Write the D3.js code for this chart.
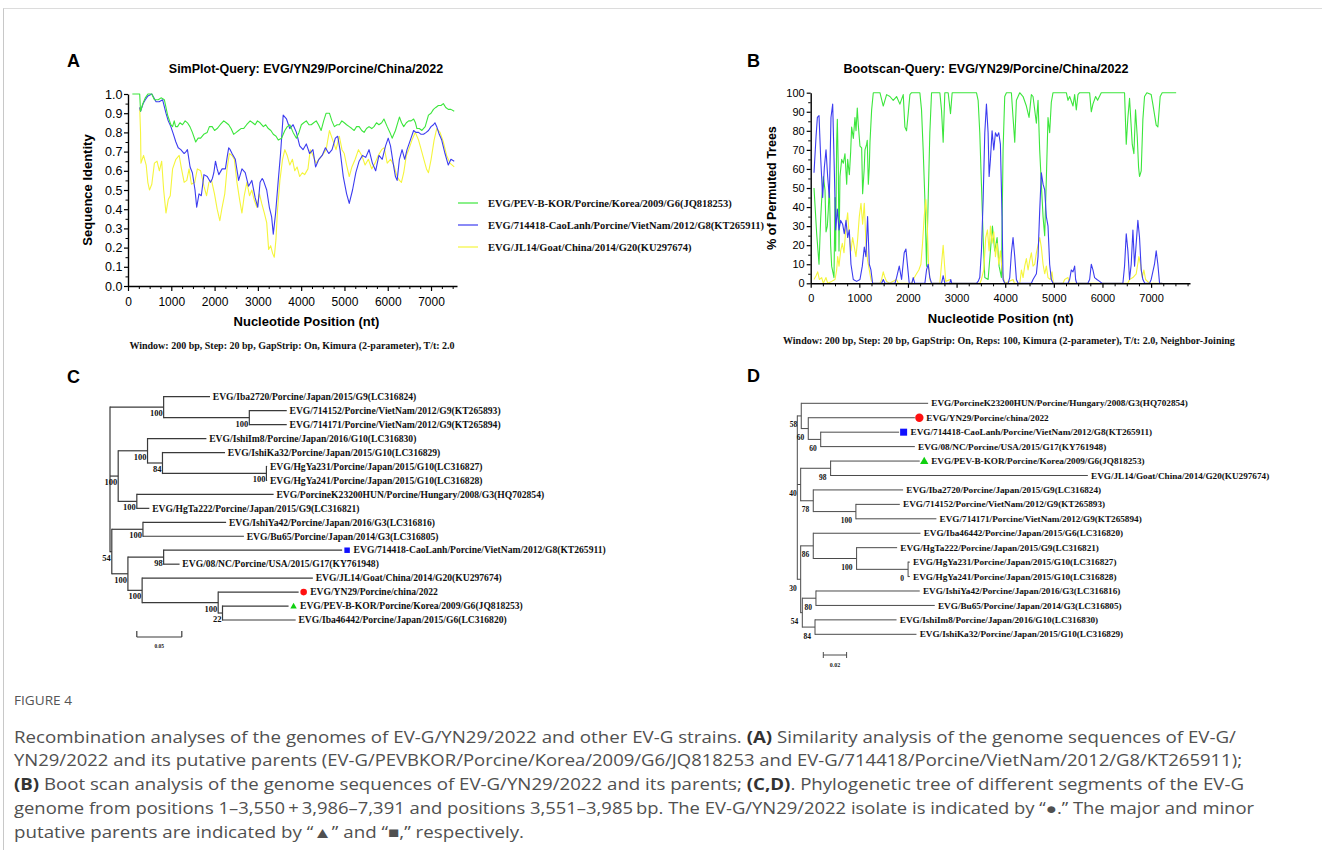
<!DOCTYPE html>
<html><head><meta charset="utf-8">
<script src="https://cdn.jsdelivr.net/npm/d3@7"></script>
<style>
body{margin:0;background:#fff;}
svg{display:block;}
</style></head>
<body>
<svg id="fig" width="1322" height="850"></svg>
<script>
// ---------------- DATA ----------------
// Panel A: SimPlot sequence identity, [position nt, identity]
const simGreen = [[100,1.0],[270,1.0],[290,0.91],[343,0.95],[400,0.98],[460,1.0],[550,1.0],[610,0.97],[700,0.97],[763,0.98],[840,0.97],[915,0.89],[990,0.84],[1030,0.83],[1068,0.86],[1100,0.83],[1144,0.83],[1200,0.85],[1259,0.84],[1320,0.86],[1373,0.85],[1430,0.83],[1487,0.80],[1564,0.75],[1620,0.77],[1678,0.77],[1750,0.79],[1830,0.80],[1880,0.83],[1945,0.83],[2000,0.81],[2060,0.82],[2130,0.84],[2212,0.86],[2270,0.85],[2326,0.84],[2380,0.82],[2441,0.79],[2500,0.80],[2555,0.81],[2610,0.82],[2670,0.82],[2740,0.84],[2822,0.86],[2880,0.85],[2937,0.84],[2990,0.86],[3051,0.85],[3127,0.83],[3180,0.84],[3242,0.82],[3300,0.81],[3356,0.79],[3420,0.78],[3471,0.76],[3547,0.77],[3623,0.81],[3680,0.83],[3738,0.84],[3814,0.80],[3890,0.77],[3950,0.80],[4005,0.84],[4060,0.85],[4119,0.86],[4180,0.84],[4233,0.84],[4290,0.85],[4348,0.86],[4400,0.84],[4462,0.81],[4520,0.86],[4577,0.90],[4653,0.90],[4710,0.86],[4767,0.83],[4830,0.84],[4882,0.84],[4940,0.86],[4996,0.85],[5050,0.84],[5111,0.83],[5170,0.82],[5225,0.81],[5280,0.83],[5339,0.83],[5400,0.81],[5454,0.80],[5510,0.82],[5568,0.83],[5630,0.82],[5683,0.83],[5740,0.85],[5797,0.84],[5860,0.85],[5912,0.87],[5988,0.83],[6050,0.80],[6102,0.77],[6178,0.81],[6230,0.85],[6270,0.88],[6320,0.85],[6369,0.83],[6430,0.85],[6484,0.86],[6540,0.86],[6598,0.87],[6640,0.85],[6674,0.82],[6730,0.82],[6789,0.81],[6865,0.83],[6941,0.89],[7000,0.90],[7056,0.92],[7110,0.93],[7170,0.94],[7230,0.94],[7285,0.95],[7340,0.93],[7399,0.92],[7460,0.92],[7536,0.91]];
const simBlue = [[270,0.93],[290,0.91],[350,0.95],[400,0.97],[460,0.99],[550,1.0],[648,0.96],[720,0.96],[800,0.97],[877,0.90],[930,0.86],[990,0.83],[1050,0.79],[1106,0.75],[1160,0.72],[1220,0.71],[1297,0.69],[1340,0.70],[1373,0.71],[1434,0.62],[1487,0.59],[1548,0.50],[1587,0.41],[1640,0.48],[1693,0.47],[1754,0.58],[1830,0.57],[1907,0.54],[1950,0.56],[1983,0.59],[2021,0.65],[2060,0.61],[2098,0.58],[2174,0.61],[2250,0.61],[2290,0.67],[2326,0.72],[2360,0.71],[2403,0.69],[2479,0.66],[2555,0.55],[2632,0.61],[2708,0.59],[2784,0.52],[2860,0.55],[2937,0.46],[2998,0.41],[3051,0.54],[3100,0.56],[3127,0.55],[3204,0.50],[3265,0.41],[3318,0.36],[3356,0.27],[3410,0.38],[3471,0.55],[3524,0.69],[3585,0.89],[3661,0.87],[3738,0.82],[3814,0.84],[3890,0.80],[3966,0.73],[4043,0.71],[4119,0.74],[4195,0.69],[4272,0.71],[4333,0.62],[4409,0.66],[4485,0.68],[4561,0.72],[4638,0.69],[4714,0.71],[4790,0.77],[4844,0.78],[4897,0.71],[4973,0.57],[5050,0.48],[5111,0.43],[5187,0.50],[5263,0.59],[5339,0.65],[5416,0.68],[5492,0.67],[5568,0.71],[5645,0.64],[5721,0.60],[5797,0.68],[5873,0.66],[5950,0.73],[6011,0.77],[6064,0.73],[6125,0.64],[6178,0.57],[6217,0.55],[6270,0.66],[6331,0.71],[6392,0.66],[6446,0.71],[6522,0.76],[6598,0.81],[6650,0.80],[6712,0.80],[6770,0.79],[6827,0.79],[6890,0.80],[6941,0.81],[7000,0.83],[7056,0.84],[7090,0.85],[7132,0.83],[7190,0.79],[7247,0.76],[7323,0.69],[7399,0.63],[7460,0.66],[7536,0.65]];
const simYellow = [[270,0.93],[290,0.80],[300,0.64],[359,0.68],[420,0.63],[458,0.54],[496,0.50],[550,0.53],[610,0.64],[671,0.65],[725,0.60],[778,0.65],[824,0.50],[877,0.38],[930,0.45],[976,0.47],[1030,0.61],[1106,0.66],[1182,0.68],[1236,0.61],[1297,0.54],[1358,0.55],[1411,0.61],[1465,0.53],[1541,0.54],[1602,0.61],[1678,0.60],[1754,0.52],[1815,0.47],[1869,0.54],[1930,0.55],[1998,0.48],[2060,0.40],[2121,0.34],[2174,0.41],[2235,0.48],[2288,0.61],[2342,0.69],[2403,0.68],[2456,0.66],[2517,0.54],[2578,0.45],[2632,0.38],[2685,0.47],[2746,0.54],[2807,0.47],[2860,0.50],[2914,0.45],[2975,0.41],[3036,0.48],[3089,0.43],[3150,0.38],[3204,0.33],[3249,0.19],[3295,0.21],[3341,0.17],[3379,0.15],[3417,0.24],[3455,0.40],[3509,0.55],[3570,0.66],[3623,0.71],[3677,0.68],[3738,0.63],[3799,0.66],[3852,0.60],[3906,0.62],[3966,0.57],[4027,0.59],[4081,0.58],[4157,0.61],[4211,0.71],[4272,0.68],[4348,0.64],[4409,0.66],[4485,0.68],[4577,0.71],[4653,0.81],[4729,0.76],[4806,0.71],[4882,0.78],[4943,0.71],[4996,0.69],[5050,0.63],[5111,0.57],[5172,0.62],[5248,0.66],[5324,0.71],[5400,0.68],[5477,0.63],[5553,0.66],[5629,0.61],[5706,0.64],[5782,0.68],[5858,0.71],[5919,0.72],[5988,0.64],[6064,0.66],[6140,0.63],[6217,0.57],[6270,0.55],[6316,0.54],[6369,0.59],[6430,0.68],[6484,0.71],[6560,0.76],[6636,0.80],[6712,0.76],[6773,0.71],[6834,0.66],[6895,0.61],[6941,0.59],[7002,0.66],[7071,0.76],[7132,0.82],[7208,0.80],[7285,0.75],[7361,0.68],[7437,0.64],[7536,0.62]];
const simLegend = ["EVG/PEV-B-KOR/Porcine/Korea/2009/G6(JQ818253)","EVG/714418-CaoLanh/Porcine/VietNam/2012/G8(KT265911)","EVG/JL14/Goat/China/2014/G20(KU297674)"];
const simXTicks = [0,1000,2000,3000,4000,5000,6000,7000];
const simYTicks = [0,0.1,0.2,0.3,0.4,0.5,0.6,0.7,0.8,0.9,1.0];

// Panel B: Bootscan % permuted trees, [position nt, percent]
const bootGreen = [[68,50],[123,26],[171,10],[205,34],[226,44],[260,56],[294,49],[315,27],[342,30],[363,39],[383,52],[410,20],[431,9],[479,3],[500,45],[513,17],[534,74],[548,86],[568,59],[582,17],[602,56],[637,65],[671,63],[705,68],[740,52],[760,65],[795,57],[822,69],[842,82],[877,76],[910,87],[932,80],[958,92],[979,83],[1013,72],[1048,71],[1068,47],[1100,60],[1116,70],[1151,73],[1163,75],[1185,52],[1205,61],[1219,74],[1253,91],[1287,100],[1424,100],[1492,93],[1561,99],[1629,98],[1697,96],[1766,98],[1834,94],[1903,99],[1937,82],[1971,80],[2005,89],[2040,99],[2074,100],[2245,100],[2279,91],[2313,70],[2348,44],[2382,9],[2416,44],[2450,79],[2485,100],[2656,100],[2690,91],[2724,74],[2758,100],[2827,100],[2875,89],[2909,100],[3409,100],[3443,96],[3477,79],[3511,52],[3546,24],[3580,3],[3648,2],[3696,17],[3737,30],[3785,17],[3833,24],[3874,9],[3922,3],[3956,70],[3990,98],[4025,100],[4127,100],[4161,87],[4196,74],[4230,96],[4298,100],[4367,98],[4435,93],[4490,87],[4538,99],[4572,98],[4641,84],[4675,96],[4709,70],[4743,52],[4778,35],[4812,25],[4846,55],[4880,87],[4914,79],[4948,95],[4983,100],[5257,100],[5291,96],[5325,98],[5394,93],[5428,99],[5462,91],[5496,99],[5530,100],[5736,100],[5770,90],[5804,94],[5859,98],[5900,96],[5975,100],[6454,100],[6489,73],[6523,87],[6557,97],[6612,73],[6646,68],[6680,91],[6715,77],[6742,61],[6762,56],[6797,59],[6831,86],[6865,98],[6913,100],[7002,99],[7036,94],[7105,83],[7139,82],[7187,98],[7228,100],[7515,100]];
const bootBlue = [[68,58],[110,77],[137,87],[171,88],[205,66],[246,45],[281,61],[315,70],[349,56],[383,45],[417,87],[452,94],[486,59],[513,28],[548,39],[582,28],[616,33],[657,31],[691,26],[726,33],[760,24],[794,28],[828,10],[876,2],[945,1],[1013,2],[1061,9],[1102,19],[1136,14],[1170,35],[1205,10],[1239,7],[1273,0],[1458,0],[1492,2],[1526,0],[1732,0],[1766,3],[1821,9],[1869,2],[1923,16],[1958,18],[1992,9],[2026,0],[2080,0],[2108,3],[2140,0],[2348,0],[2382,7],[2416,10],[2450,3],[2485,0],[2690,0],[2724,4],[2758,0],[2860,0],[2880,2],[2900,0],[3409,0],[3443,1],[3477,3],[3511,17],[3546,44],[3580,79],[3614,94],[3648,79],[3669,56],[3696,65],[3730,80],[3765,70],[3799,79],[3833,77],[3867,79],[3901,73],[3935,35],[3956,2],[3990,0],[4060,0],[4093,3],[4127,16],[4161,24],[4196,14],[4230,2],[4264,0],[4538,0],[4572,2],[4641,5],[4675,14],[4709,38],[4743,58],[4778,52],[4812,49],[4846,35],[4880,30],[4914,10],[4948,2],[4983,0],[5290,0],[5325,2],[5359,7],[5394,6],[5428,9],[5448,2],[5470,0],[5700,0],[5736,2],[5770,10],[5804,7],[5838,3],[5886,2],[5941,1],[5990,0],[6420,0],[6454,9],[6489,26],[6523,17],[6557,2],[6591,10],[6626,28],[6660,9],[6694,21],[6728,33],[6762,24],[6797,7],[6831,2],[6870,0],[6968,0],[7002,2],[7070,10],[7105,17],[7139,10],[7174,0],[7230,0]];
const bootYellow = [[68,2],[110,4],[144,6],[178,2],[226,3],[260,0],[315,3],[349,0],[431,1],[500,2],[534,7],[555,14],[582,9],[616,17],[650,21],[685,16],[726,30],[760,37],[794,24],[828,17],[862,24],[897,19],[931,14],[965,23],[999,35],[1034,42],[1068,31],[1102,42],[1136,21],[1170,12],[1205,7],[1239,2],[1280,0],[1424,0],[1458,2],[1492,6],[1526,3],[1560,1],[1620,0],[1766,2],[1800,0],[2074,0],[2108,2],[2176,5],[2224,7],[2266,10],[2300,21],[2334,35],[2368,44],[2396,31],[2423,10],[2450,2],[2485,0],[2656,0],[2690,10],[2724,20],[2751,10],[2778,1],[2861,2],[2900,0],[3480,0],[3511,2],[3559,7],[3600,24],[3635,28],[3669,17],[3696,30],[3730,21],[3765,27],[3799,14],[3833,21],[3867,10],[3901,17],[3935,7],[3970,2],[4000,0],[4161,2],[4190,0],[4300,0],[4333,7],[4367,3],[4401,9],[4435,13],[4470,7],[4504,12],[4538,16],[4572,9],[4607,10],[4641,16],[4675,20],[4709,24],[4743,19],[4778,10],[4812,5],[4846,9],[4880,3],[4928,2],[4962,6],[4990,0],[5190,0],[5222,2],[5291,3],[5320,0],[6520,0],[6557,2],[6626,3],[6694,5],[6749,14],[6783,10],[6817,3],[6851,7],[6886,2],[6968,0],[7230,0]];
const bootXTicks = [0,1000,2000,3000,4000,5000,6000,7000];
const bootYTicks = [0,10,20,30,40,50,60,70,80,90,100];

// Panels C, D: trees. Internal node: {d: distance from root, b: bootstrap, c: children}; leaf: {n: name, d: distance, m: marker}
const N = (d, b, ...c) => ({d, b, c});
const L = (n, d, m) => ({n, d, m});
const treeC = N(0, null,
  N(0.0596, 100, L("EVG/Iba2720/Porcine/Japan/2015/G9(LC316824)", 0.1111),
    N(0.1548, 100, L("EVG/714152/Porcine/VietNam/2012/G9(KT265893)", 0.1964), L("EVG/714171/Porcine/VietNam/2012/G9(KT265894)", 0.1964))),
  N(0.0091, 100,
    N(0.0417, 100, L("EVG/IshiIm8/Porcine/Japan/2016/G10(LC316830)", 0.1071),
      N(0.0583, 84, L("EVG/IshiKa32/Porcine/Japan/2015/G10(LC316829)", 0.1278),
        N(0.1738, 100, L("EVG/HgYa231/Porcine/Japan/2015/G10(LC316827)", 0.1746), L("EVG/HgYa241/Porcine/Japan/2015/G10(LC316828)", 0.1746)))),
    N(0.0298, 100, L("EVG/PorcineK23200HUN/Porcine/Hungary/2008/G3(HQ702854)", 0.1818), L("EVG/HgTa222/Porcine/Japan/2015/G9(LC316821)", 0.0437))),
  N(0.0020, 54,
    N(0.0366, 100, L("EVG/IshiYa42/Porcine/Japan/2016/G3(LC316816)", 0.1290), L("EVG/Bu65/Porcine/Japan/2014/G3(LC316805)", 0.1488)),
    N(0.0199, 100,
      N(0.0596, 98, L("EVG/714418-CaoLanh/Porcine/VietNam/2012/G8(KT265911)", 0.2579, "square"), L("EVG/08/NC/Porcine/USA/2015/G17(KY761948)", 0.0773)),
      N(0.0357, 100, L("EVG/JL14/Goat/China/2014/G20(KU297674)", 0.2254),
        N(0.1202, 100, L("EVG/YN29/Porcine/china/2022", 0.2096, "circle"),
          N(0.1250, 22, L("EVG/PEV-B-KOR/Porcine/Korea/2009/G6(JQ818253)", 0.1984, "triangle"), L("EVG/Iba46442/Porcine/Japan/2015/G6(LC316820)", 0.2063)))))));
const treeD = N(0, null,
  N(0.0034, 58, L("EVG/PorcineK23200HUN/Porcine/Hungary/2008/G3(HQ702854)", 0.1123),
    N(0.0094, 60, L("EVG/YN29/Porcine/china/2022", 0.1009, "circle"),
      N(0.0201, 60, L("EVG/714418-CaoLanh/Porcine/VietNam/2012/G8(KT265911)", 0.0874, "square"), L("EVG/08/NC/Porcine/USA/2015/G17(KY761948)", 0.1009)))),
  N(0.0029, 40,
    N(0.0286, 98, L("EVG/PEV-B-KOR/Porcine/Korea/2009/G6(JQ818253)", 0.1051, "triangle"), L("EVG/JL14/Goat/China/2014/G20(KU297674)", 0.2494)),
    N(0.0137, 78, L("EVG/Iba2720/Porcine/Japan/2015/G9(LC316824)", 0.0908),
      N(0.0503, 100, L("EVG/714152/Porcine/VietNam/2012/G9(KT265893)", 0.0880), L("EVG/714171/Porcine/VietNam/2012/G9(KT265894)", 0.1194)))),
  N(0.0029, 30,
    N(0.0137, 86, L("EVG/Iba46442/Porcine/Japan/2015/G6(LC316820)", 0.1057),
      N(0.0509, 100, L("EVG/HgTa222/Porcine/Japan/2015/G9(LC316821)", 0.0857),
        N(0.0951, 0, L("EVG/HgYa231/Porcine/Japan/2015/G10(LC316827)", 0.0966), L("EVG/HgYa241/Porcine/Japan/2015/G10(LC316828)", 0.0966)))),
    N(0.0043, 54,
      N(0.0160, 80, L("EVG/IshiYa42/Porcine/Japan/2016/G3(LC316816)", 0.1051), L("EVG/Bu65/Porcine/Japan/2014/G3(LC316805)", 0.1180)),
      N(0.0152, 84, L("EVG/IshiIm8/Porcine/Japan/2016/G10(LC316830)", 0.0852), L("EVG/IshiKa32/Porcine/Japan/2015/G10(LC316829)", 0.1023)))));

const captionLines = [
  [["Recombination analyses of the genomes of EV-G/YN29/2022 and other EV-G strains. ",0],["(A)",1],[" Similarity analysis of the genome sequences of EV-G/",0]],
  [["YN29/2022 and its putative parents (EV-G/PEVBKOR/Porcine/Korea/2009/G6/JQ818253 and EV-G/714418/Porcine/VietNam/2012/G8/KT265911);",0]],
  [["(B)",1],[" Boot scan analysis of the genome sequences of EV-G/YN29/2022 and its parents; ",0],["(C,D)",1],[". Phylogenetic tree of different segments of the EV-G",0]],
  [["genome from positions 1\u20133,550\u2009+\u20093,986\u20137,391 and positions 3,551\u20133,985\u2009bp. The EV-G/YN29/2022 isolate is indicated by \u201c\u25CF.\u201d The major and minor",0]],
  [["putative parents are indicated by \u201c\u25B2\u201d and \u201c\u25A0,\u201d respectively.",0]]
];
const captionWidths = [1222, 1228, 1230, 1240, 510];

// ---------------- DRAWING ----------------
const svg = d3.select("#fig");
const SANS = "'Liberation Sans', Arial, sans-serif";
const SERIF = "'Liberation Serif', 'Times New Roman', serif";
const GREEN = "#3ce63c", BLUE = "#3c3cf0", YELLOW = "#f5f53c";

// frame
svg.append("line").attr("x1",3.5).attr("x2",3.5).attr("y1",8).attr("y2",850).attr("stroke","#c8c8c8");
svg.append("line").attr("x1",3.5).attr("x2",1322).attr("y1",8.5).attr("y2",8.5).attr("stroke","#dcdcdc");

function panelLetter(t, x, y){
  svg.append("text").attr("x",x).attr("y",y).text(t)
    .attr("font-family",SANS).attr("font-weight","bold").attr("font-size",18).attr("fill","#000");
}
panelLetter("A",67,67); panelLetter("B",747,67); panelLetter("C",67,383); panelLetter("D",747,382);

function styleAxis(g, fs){
  g.attr("font-family",SANS).attr("font-size",fs);
  g.selectAll("path.domain").attr("stroke","#000").attr("stroke-width",1.4);
  g.selectAll(".tick line").attr("stroke","#000").attr("stroke-width",1.2);
  g.selectAll(".tick text").attr("fill","#000");
}

// ----- Panel A -----
const xA = d3.scaleLinear().domain([0,7600]).range([128,457]);
const yA = d3.scaleLinear().domain([0,1]).range([286,94]);
{
  const g = svg.append("g");
  const minorX = d3.range(0,7601,250).filter(v=>v%1000!==0);
  const minorY = d3.range(0,1.0001,0.05).filter((v,i)=>i%2===1);
  g.append("g").attr("transform","translate(0,286)")
    .call(d3.axisBottom(xA).tickValues(minorX).tickSize(3).tickFormat("").tickSizeOuter(0))
    .call(a=>{a.select(".domain").remove(); a.selectAll("line").attr("stroke","#000");});
  g.append("g").attr("transform","translate(128,0)")
    .call(d3.axisLeft(yA).tickValues(minorY).tickSize(2.5).tickFormat("").tickSizeOuter(0))
    .call(a=>{a.select(".domain").remove(); a.selectAll("line").attr("stroke","#000");});
  const line = d3.line().x(d=>xA(d[0])).y(d=>yA(d[1]));
  [[simYellow,YELLOW],[simBlue,BLUE],[simGreen,GREEN]].forEach(([data,c])=>{
    g.append("path").datum(data).attr("d",line).attr("fill","none").attr("stroke",c).attr("stroke-width",1.1).attr("stroke-linejoin","round");
  });
  const ax = g.append("g").attr("transform","translate(0,286)")
    .call(d3.axisBottom(xA).tickValues(simXTicks).tickSize(5).tickPadding(6).tickSizeOuter(0).tickFormat(d3.format("d")));
  styleAxis(ax,12);
  const ay = g.append("g").attr("transform","translate(128,0)")
    .call(d3.axisLeft(yA).tickValues(simYTicks).tickSize(4).tickPadding(1.5).tickSizeOuter(0).tickFormat(d3.format(".1f")));
  styleAxis(ay,12.5);
  g.append("text").attr("x",306).attr("y",73).attr("text-anchor","middle").text("SimPlot-Query: EVG/YN29/Porcine/China/2022")
    .attr("font-family",SANS).attr("font-weight","bold").attr("font-size",12.5);
  g.append("text").attr("x",306.5).attr("y",326).attr("text-anchor","middle").text("Nucleotide Position (nt)")
    .attr("font-family",SANS).attr("font-weight","bold").attr("font-size",13);
  g.append("text").attr("transform","translate(91.5,190) rotate(-90)").attr("text-anchor","middle").text("Sequence Identity")
    .attr("font-family",SANS).attr("font-weight","bold").attr("font-size",13);
  const legColors = [GREEN,BLUE,YELLOW];
  const yLeg = d3.scalePoint().domain(simLegend).range([203,247]);
  simLegend.forEach((t,i)=>{
    g.append("line").attr("x1",458).attr("x2",478).attr("y1",yLeg(t)).attr("y2",yLeg(t)).attr("stroke",legColors[i]).attr("stroke-width",1.2);
    g.append("text").attr("x",488).attr("y",yLeg(t)+3.5).text(t)
      .attr("font-family",SERIF).attr("font-weight","bold").attr("font-size",10.5).attr("fill","#111");
  });
  g.append("text").attr("x",292).attr("y",349).attr("text-anchor","middle")
    .text("Window: 200 bp, Step: 20 bp, GapStrip: On, Kimura (2-parameter), T/t: 2.0")
    .attr("font-family",SERIF).attr("font-weight","bold").attr("font-size",10).attr("fill","#111");
}

// ----- Panel B -----
const xB = d3.scaleLinear().domain([0,7800]).range([810.7,1190]);
const yB = d3.scaleLinear().domain([0,100]).range([283.3,92.7]);
{
  const g = svg.append("g");
  const minorX = d3.range(0,7801,250).filter(v=>v%1000!==0);
  const minorY = d3.range(5,100,10);
  g.append("g").attr("transform","translate(0,283.3)")
    .call(d3.axisBottom(xB).tickValues(minorX).tickSize(3).tickFormat("").tickSizeOuter(0))
    .call(a=>{a.select(".domain").remove(); a.selectAll("line").attr("stroke","#000");});
  g.append("g").attr("transform","translate(810.7,0)")
    .call(d3.axisLeft(yB).tickValues(minorY).tickSize(2.5).tickFormat("").tickSizeOuter(0))
    .call(a=>{a.select(".domain").remove(); a.selectAll("line").attr("stroke","#000");});
  const line = d3.line().x(d=>xB(d[0])).y(d=>yB(d[1]));
  [[bootGreen,GREEN],[bootYellow,YELLOW],[bootBlue,BLUE]].forEach(([data,c])=>{
    g.append("path").datum(data).attr("d",line).attr("fill","none").attr("stroke",c).attr("stroke-width",1.1).attr("stroke-linejoin","round");
  });
  const ax = g.append("g").attr("transform","translate(0,283.3)")
    .call(d3.axisBottom(xB).tickValues(bootXTicks).tickSize(4.5).tickPadding(6).tickSizeOuter(0).tickFormat(d3.format("d")));
  styleAxis(ax,11);
  const ay = g.append("g").attr("transform","translate(810.7,0)")
    .call(d3.axisLeft(yB).tickValues(bootYTicks).tickSize(4).tickPadding(2).tickSizeOuter(0).tickFormat(d3.format("d")));
  styleAxis(ay,11);
  g.append("text").attr("x",986).attr("y",73).attr("text-anchor","middle").text("Bootscan-Query: EVG/YN29/Porcine/China/2022")
    .attr("font-family",SANS).attr("font-weight","bold").attr("font-size",12.5);
  g.append("text").attr("x",1000.7).attr("y",323).attr("text-anchor","middle").text("Nucleotide Position (nt)")
    .attr("font-family",SANS).attr("font-weight","bold").attr("font-size",13);
  g.append("text").attr("transform","translate(776,188) rotate(-90)").attr("text-anchor","middle").text("% of Permuted Trees")
    .attr("font-family",SANS).attr("font-weight","bold").attr("font-size",12.5);
  g.append("text").attr("x",783).attr("y",343.5)
    .text("Window: 200 bp, Step: 20 bp, GapStrip: On, Reps: 100, Kimura (2-parameter), T/t: 2.0, Neighbor-Joining")
    .attr("font-family",SERIF).attr("font-weight","bold").attr("font-size",10).attr("fill","#111");
}

// ----- Trees -----
function drawTree(root, o){
  const g = svg.append("g");
  const h = d3.hierarchy(root, d=>d.c);
  const leaves = h.leaves();
  const yS = d3.scaleLinear().domain([0, leaves.length-1]).range(o.yRange);
  leaves.forEach((l,i)=>{ l.py = yS(i); });
  h.eachAfter(n=>{ if(n.children) n.py = (n.children[0].py + n.children[n.children.length-1].py)/2; });
  h.each(n=>{ n.px = o.x(n.data.d); });
  h.each(n=>{
    if(!n.children) return;
    g.append("line").attr("x1",n.px).attr("x2",n.px).attr("y1",n.children[0].py).attr("y2",n.children[n.children.length-1].py)
      .attr("stroke",o.stroke).attr("stroke-width",o.sw).attr("stroke-linecap","square");
    n.children.forEach(c=>{
      g.append("line").attr("x1",n.px).attr("x2",c.px).attr("y1",c.py).attr("y2",c.py)
        .attr("stroke",o.stroke).attr("stroke-width",o.sw);
    });
    if(n.data.b!==null && n.data.b!==undefined){
      g.append("text").attr("x",n.px-o.bx).attr("y",n.py+o.by).attr("text-anchor","end").text(n.data.b)
        .attr("font-family",SERIF).attr("font-weight","bold").attr("font-size",o.bfs).attr("fill","#111");
    }
  });
  const symTypes = {circle:d3.symbolCircle, square:d3.symbolSquare, triangle:d3.symbolTriangle};
  const symColors = {circle:"#ff1010", square:"#1010ff", triangle:"#10d010"};
  leaves.forEach(l=>{
    let tx = l.px + o.tOff;
    if(l.data.m){
      g.append("path").attr("d", d3.symbol(symTypes[l.data.m], o.symSize[l.data.m])())
        .attr("transform",`translate(${l.px+o.mOff},${l.py + (l.data.m==="triangle"?0.5:0)})`).attr("fill",symColors[l.data.m]);
      tx = l.px + o.mtOff;
    }
    g.append("text").attr("x",tx).attr("y",l.py+o.fs*0.34).text(l.data.n)
      .attr("font-family",SERIF).attr("font-weight","bold").attr("font-size",o.fs).attr("fill","#111");
  });
  // scale bar
  const x0 = o.bar.x, x1 = x0 + (o.x(o.bar.v) - o.x(0));
  g.append("line").attr("x1",x0).attr("x2",x1).attr("y1",o.bar.y).attr("y2",o.bar.y).attr("stroke",o.stroke).attr("stroke-width",o.sw);
  [x0,x1].forEach(xx=>g.append("line").attr("x1",xx).attr("x2",xx).attr("y1",o.bar.y+o.bar.t0).attr("y2",o.bar.y+o.bar.t1).attr("stroke",o.stroke).attr("stroke-width",o.sw));
  g.append("text").attr("x",(x0+x1)/2).attr("y",o.bar.y+o.bar.ly).attr("text-anchor","middle").text(o.bar.v)
    .attr("font-family",SERIF).attr("font-weight","bold").attr("font-size",o.bar.fs).attr("fill","#222");
}

drawTree(treeC, {
  x: d3.scaleLinear().domain([0,0.05]).range([110,155]),
  yRange:[396.7,620], stroke:"#3a3a3a", sw:1.2, fs:9.6, bfs:8.5, bx:1, by:9,
  tOff:2.8, mOff:5, mtOff:11.5, symSize:{circle:34, square:30, triangle:18},
  bar:{x:136.8, v:0.05, y:637, t0:-6, t1:0, ly:11, fs:5.5}
});
drawTree(treeD, {
  x: d3.scaleLinear().domain([0,0.02]).range([797.3,820.6]),
  yRange:[403.3,634.3], stroke:"#4a4a4a", sw:1, fs:9.2, bfs:7.5, bx:4, by:11.5,
  tOff:3.2, mOff:4.5, mtOff:11.5, symSize:{circle:55, square:49, triangle:30},
  bar:{x:823.3, v:0.02, y:655, t0:-3, t1:3, ly:12, fs:6}
});

// ----- Caption -----
svg.append("text").attr("x",14).attr("y",704.5).text("FIGURE 4")
  .attr("font-family","'Open Sans', sans-serif").attr("font-size",12).attr("fill","#555")
  .attr("textLength",58).attr("lengthAdjust","spacingAndGlyphs");
const capY = d3.scaleLinear().domain([0,4]).range([742.5,838]);
captionLines.forEach((parts,i)=>{
  const t = svg.append("text").attr("x",14).attr("y",capY(i))
    .attr("font-family","'Open Sans', sans-serif").attr("font-size",15.5).attr("fill","#505050")
    .attr("textLength",captionWidths[i]).attr("lengthAdjust","spacingAndGlyphs");
  parts.forEach(([s,b])=>{
    t.append("tspan").text(s).attr("font-weight",b?"bold":"normal").attr("fill",b?"#333":"#505050");
  });
});
</script>
</body></html>
